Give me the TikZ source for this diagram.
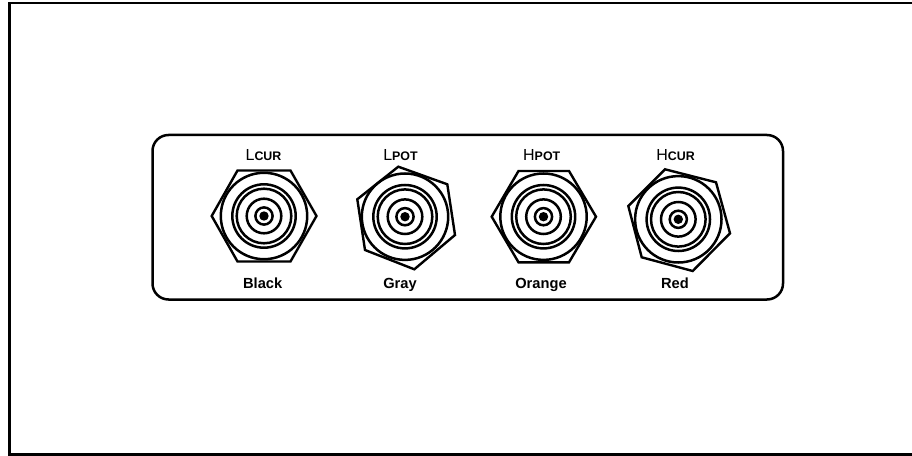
\documentclass[tikz,border=0pt]{standalone}
\usepackage{fontspec}
\setmainfont{Liberation Sans}
\tikzset{
  px/.style={x=0.75pt,y=-0.75pt},
  frameline/.style={draw=black,line width=2.5*0.75pt},
  ring/.style={draw=black,line width=2.5*0.75pt},
  hexline/.style={draw=black,line width=2.4*0.75pt,line join=miter},
  lab/.style={inner sep=0pt,anchor=base,font=\fontsize{11pt}{12pt}\selectfont\bfseries},
  toplab/.style={inner sep=0pt,anchor=base},
}
\newcommand{\smalltag}[2]{{\fontsize{12pt}{12pt}\selectfont #1}{\fontsize{9.3pt}{10pt}\selectfont\bfseries #2}}
\newcommand{\rings}[2]{%
  \foreach \r in {43.2,31.7,27.3,17.3,8.6} \draw[ring] (#1,#2) circle[radius=\r*0.75pt];
  \fill (#1,#2) circle[radius=4.7*0.75pt];
}
\begin{document}
\begin{tikzpicture}[px]
\useasboundingbox (0,0) rectangle (912,456);
\draw[frameline] (912,2.8) -- (9.5,2.8) -- (9.5,454.5) -- (912,454.5);
\draw[frameline,rounded corners=12pt] (152.5,135) rectangle (783,299.5);
% connector 1
\draw[hexline] (211.7,216) -- (237.5,170.5) -- (290.5,170.5) -- (316.5,216) -- (290.5,261.5) -- (237.5,261.5) -- cycle;
\rings{264}{216}
% connector 2
\draw[hexline] (398.3,166.7) -- (447.3,184.3) -- (455,235) -- (414.3,269.3) -- (365,250) -- (357.3,199.3) -- cycle;
\rings{405}{216.7}
% connector 3
\draw[hexline] (491.7,216.7) -- (518.5,171) -- (569,171) -- (596,216.7) -- (569,262.3) -- (518.5,262.3) -- cycle;
\rings{543.5}{216.7}
% connector 4
\draw[hexline] (665,169.3) -- (716,182.3) -- (730,233.3) -- (692.7,271) -- (641.7,257.3) -- (628.3,206) -- cycle;
\rings{678.3}{219.3}
% labels
\node[toplab] (t1) at (263.5,161) {\smalltag{L}{CUR}};
\node[toplab] (t2) at (400.5,160.7) {\smalltag{L}{POT}};
\node[toplab] (t3) at (541.7,160.7) {\smalltag{H}{POT}};
\node[toplab] (t4) at (675.5,160.7) {\smalltag{H}{CUR}};
\node[lab] (b1) at (262.7,288) {Black};
\node[lab] (b2) at (400,288) {Gray};
\node[lab] (b3) at (541,288) {Orange};
\node[lab] (b4) at (675,288) {Red};
\end{tikzpicture}
\end{document}
